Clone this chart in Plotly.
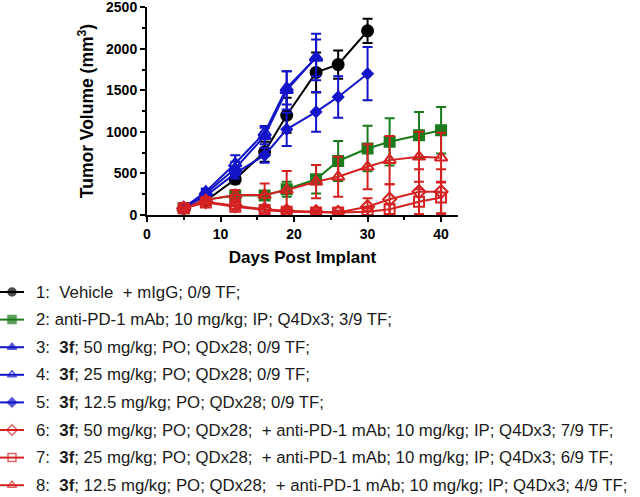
import plotly.graph_objects as go

days = [5, 8, 12, 16, 19, 23, 26, 30, 33, 37, 40]

names = [
    "1:  Vehicle  + mIgG; 0/9 TF;",
    "2: anti-PD-1 mAb; 10 mg/kg; IP; Q4Dx3; 3/9 TF;",
    "3:  <b>3f</b>; 50 mg/kg; PO; QDx28; 0/9 TF;",
    "4:  <b>3f</b>; 25 mg/kg; PO; QDx28; 0/9 TF;",
    "5:  <b>3f</b>; 12.5 mg/kg; PO; QDx28; 0/9 TF;",
    "6:  <b>3f</b>; 50 mg/kg; PO; QDx28;  + anti-PD-1 mAb; 10 mg/kg; IP; Q4Dx3; 7/9 TF;",
    "7:  <b>3f</b>; 25 mg/kg; PO; QDx28;  + anti-PD-1 mAb; 10 mg/kg; IP; Q4Dx3; 6/9 TF;",
    "8:  <b>3f</b>; 12.5 mg/kg; PO; QDx28;  + anti-PD-1 mAb; 10 mg/kg; IP; Q4Dx3; 4/9 TF;",
]

g1 = [85, 170, 430, 760, 1200, 1715, 1810, 2215]
e1 = [20, 25, 50, 120, 210, 240, 170, 145]
g2 = [80, 185, 235, 235, 310, 430, 650, 800, 880, 960, 1020]
e2 = [15, 20, 40, 50, 90, 170, 240, 275, 285, 280, 280]
g3 = [90, 260, 560, 950, 1500, 1900]
e3 = [15, 40, 80, 100, 230, 280]
g4 = [90, 280, 620, 990, 1530, 1890]
e4 = [15, 40, 100, 80, 200, 220]
g5 = [90, 230, 500, 720, 1030, 1240, 1420, 1700]
e5 = [15, 30, 60, 90, 200, 240, 250, 320]
g6 = [80, 160, 110, 70, 50, 40, 30, 100, 190, 280, 280]
e6 = [15, 30, 40, 40, 30, 30, 20, 100, 180, 270, 270]
g7 = [80, 150, 100, 60, 40, 30, 30, 40, 70, 160, 210]
e7 = [15, 25, 30, 30, 25, 20, 20, 40, 60, 150, 190]
g8 = [80, 180, 240, 240, 300, 400, 460, 580, 660, 700, 690]
e8 = [15, 30, 60, 140, 230, 200, 240, 270, 290, 300, 300]

BLACK = "#000000"
GREEN = "#1b7a1b"
BLUE = "#1414c8"
RED = "#d42222"

series = [
    (g1, e1, BLACK, "circle", 11, 8),
    (g2, e2, GREEN, "square", 10, 8),
    (g3, e3, BLUE, "triangle-up", 11, 8),
    (g4, e4, BLUE, "triangle-up-open", 11, 8),
    (g5, e5, BLUE, "diamond", 8, 7),
    (g6, e6, RED, "diamond-open", 10, 8),
    (g7, e7, RED, "square-open", 10, 8),
    (g8, e8, RED, "triangle-up-open", 11, 8),
]

W, H = 640, 497
fig = go.Figure()
for i, (vals, errs, col, sym, sz, lsz) in enumerate(series):
    n = len(vals)
    fig.add_trace(go.Scatter(
        x=days[:n], y=vals, name=names[i].replace("<b>", "").replace("</b>", ""),
        mode="lines+markers", showlegend=False,
        line=dict(color=col, width=2),
        marker=dict(symbol=sym, size=sz, color=col,
                    line=dict(color=col, width=2)),
        error_y=dict(type="data", array=errs, color=col, thickness=2, width=5),
    ))

# key (legend) drawn on its own hidden axes below the chart
KEY_LINE = [0, 12, 24]
ROW_H = 27.6
KEY_TOP = 283
FIRST = 292
for i, (vals, errs, col, sym, sz, lsz) in enumerate(series):
    fig.add_trace(go.Scatter(
        x=KEY_LINE, y=[i] * 3, xaxis="x2", yaxis="y2", mode="lines+markers",
        showlegend=False, hoverinfo="skip",
        line=dict(color=col, width=2),
        marker=dict(symbol=sym, size=[0, lsz, 0], color=col,
                    line=dict(color=col, width=1.5)),
    ))
    fig.add_annotation(x=34, y=i, xref="x2", yref="y2", text=names[i],
                       showarrow=False, xanchor="left", yanchor="middle",
                       font=dict(size=16.8, color="#1a1a1a"))

r0 = -(FIRST - KEY_TOP) / ROW_H
r1 = r0 + (H - KEY_TOP) / ROW_H

x0, x1, yb, yt = 147, 458, 215, 7
fig.update_layout(
    width=W, height=H,
    margin=dict(l=0, r=0, t=0, b=0, autoexpand=False),
    plot_bgcolor="rgba(0,0,0,0)", paper_bgcolor="white",
    font=dict(family="Liberation Sans, Arial, sans-serif", color="#000"),
    showlegend=False,
    xaxis=dict(domain=[x0 / W, x1 / W], anchor="y",
               range=[0, 42.3], showline=True, linecolor="#000", linewidth=2,
               ticks="outside", ticklen=5, tickwidth=2, tickcolor="#000",
               tickvals=[0, 10, 20, 30, 40], showgrid=False, zeroline=False,
               tickfont=dict(size=14, weight="bold"),
               minor=dict(ticks="outside", ticklen=3, tickwidth=2,
                          tickcolor="#000", dtick=5, tick0=0),
               title=dict(text="Days Post Implant", font=dict(size=17, weight="bold"),
                          standoff=10)),
    yaxis=dict(domain=[1 - yb / H, 1 - yt / H], anchor="x",
               range=[0, 2502], showline=True, linecolor="#000", linewidth=2,
               ticks="outside", ticklen=5, tickwidth=2, tickcolor="#000",
               tickvals=[0, 500, 1000, 1500, 2000, 2500], showgrid=False,
               zeroline=False, tickfont=dict(size=14, weight="bold"),
               ticklabeloverflow="allow",
               minor=dict(ticks="outside", ticklen=3, tickwidth=2,
                          tickcolor="#000", dtick=250, tick0=0),
               title=dict(text="Tumor Volume (mm<sup>3</sup>)",
                          font=dict(size=17.5, weight="bold"), standoff=8)),
    xaxis2=dict(domain=[0, 1], anchor="y2", range=[0, W], visible=False,
                fixedrange=True),
    yaxis2=dict(domain=[0, 1 - KEY_TOP / H], anchor="x2",
                range=[r1, r0], visible=False, fixedrange=True),
)

fig.write_html("out.html", config={"displayModeBar": False},
               post_script="document.body.style.margin='0px';")
